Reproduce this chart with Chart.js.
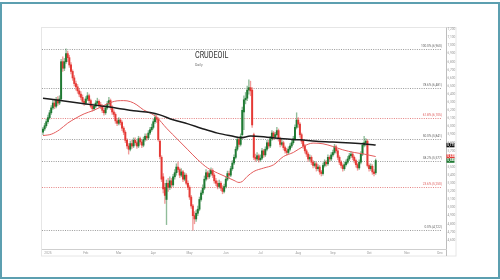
<!DOCTYPE html>
<html><head><meta charset="utf-8">
<script src="https://cdn.jsdelivr.net/npm/chart.js@4.4.1/dist/chart.umd.min.js"></script>
<style>
html,body{margin:0;padding:0;background:#fff;}
#wrap{position:relative;width:500px;height:280px;overflow:hidden;background:#fff;}
#frame{position:absolute;left:0;top:2px;width:500px;height:277px;box-sizing:border-box;border:2px solid #5c9fb0;pointer-events:none;}
#title{position:absolute;left:195px;top:51px;font-family:Roboto,"Liberation Sans",sans-serif;font-size:9px;line-height:9px;font-weight:400;color:#333;transform:scaleX(0.8);transform-origin:0 0;white-space:nowrap;}
#sub{position:absolute;left:195px;top:62.5px;font-family:Roboto,sans-serif;font-size:3.6px;line-height:4px;color:#777;}
canvas{position:absolute;left:0;top:0;}
</style></head>
<body><div id="wrap"><canvas id="c" width="500" height="280"></canvas><div id="title">CRUDEOIL</div><div id="sub">Daily</div><div id="frame"></div></div>
<script>
// ---- DATA (MCX CRUDEOIL, daily, from 27 Dec 2024) ----
const monthLabels = ["2025","Feb","Mar","Apr","May","Jun","Jul","Aug","Sep","Oct","Nov","Dec"];
const yTicks = [4600,4700,4800,4900,5000,5100,5200,5300,5400,5500,5600,5700,5800,5900,6000,6100,6200,6300,6400,6500,6600,6700,6800,6900,7000,7100,7200];
const opens = [
5930,5970,6010,6060,6110,6170,6230,6290,6250,6330,
6290,6340,6800,6720,6800,6900,6850,6760,6680,6600,
6530,6490,6440,6400,6360,6310,6290,6340,6380,6320,
6250,6220,6250,6290,6310,6270,6250,6200,6170,6230,
6280,6320,6240,6180,6150,6070,6040,6080,6050,5980,
5930,5830,5760,5720,5790,5760,5830,5800,5760,5850,
5810,5770,5840,5880,5860,5920,5960,5990,6060,6110,
6090,5820,5620,5380,5250,5100,5300,5250,5330,5280,
5380,5430,5500,5470,5400,5440,5350,5400,5300,5250,
5130,5020,4900,4860,4930,4980,5100,5180,5240,5350,
5430,5380,5420,5460,5400,5330,5300,5260,5300,5240,
5200,5260,5350,5420,5400,5480,5550,5620,5720,5840,
5780,5900,6180,6330,6350,6450,6480,6450,5900,5620,
5600,5640,5590,5610,5700,5650,5720,5800,5760,5850,
5920,5870,5900,5950,5850,5780,5800,5740,5700,5680,
5720,5760,5800,5850,5990,6080,6030,5900,5820,5760,
5700,5660,5600,5620,5560,5520,5540,5480,5500,5440,
5420,5520,5560,5540,5620,5600,5650,5680,5750,5700,
5620,5560,5520,5480,5530,5560,5600,5640,5660,5620,
5580,5530,5490,5560,5660,5770,5800,5820,5520,5480,
5510,5440,5430];
const highs = [
5990,6040,6090,6140,6200,6260,6330,6340,6360,6370,
6380,6830,6860,6840,6960,6930,6880,6790,6700,6630,
6560,6520,6470,6430,6390,6340,6370,6420,6400,6340,
6280,6280,6320,6350,6330,6300,6270,6230,6260,6310,
6360,6340,6260,6210,6170,6100,6110,6100,6070,6000,
5950,5850,5790,5820,5830,5860,5860,5820,5880,5870,
5830,5870,5910,5910,5950,5990,6030,6090,6150,6140,
6110,5840,5640,5420,5300,5340,5360,5380,5360,5410,
5470,5540,5560,5490,5480,5460,5430,5420,5330,5270,
5150,5040,4950,4970,5020,5130,5210,5280,5390,5470,
5450,5460,5490,5480,5420,5360,5330,5340,5320,5270,
5290,5380,5450,5450,5510,5580,5650,5750,5870,5870,
5910,6240,6380,6420,6500,6575,6560,6480,5920,5660,
5680,5660,5650,5730,5720,5750,5830,5830,5880,5950,
5940,5930,5990,5970,5870,5840,5820,5760,5730,5750,
5790,5830,5880,6020,6170,6110,6050,5920,5840,5780,
5720,5680,5650,5640,5580,5570,5560,5530,5520,5460,
5550,5590,5580,5650,5640,5680,5710,5780,5770,5720,
5640,5580,5540,5560,5590,5630,5670,5690,5680,5640,
5600,5550,5590,5690,5800,5880,5850,5840,5540,5540,
5530,5470,5600];
const lows = [
5900,5950,5990,6040,6090,6150,6210,6220,6230,6260,
6270,6320,6680,6690,6780,6800,6730,6650,6570,6500,
6450,6410,6370,6330,6280,6260,6270,6320,6290,6230,
6190,6200,6230,6270,6240,6220,6170,6140,6150,6210,
6260,6210,6150,6120,6040,6010,6020,6020,5950,5900,
5800,5730,5660,5700,5730,5740,5770,5730,5740,5780,
5740,5750,5820,5830,5840,5900,5940,5970,6040,6050,
5820,5600,5320,5180,5050,4790,5200,5220,5240,5260,
5350,5400,5440,5370,5380,5320,5330,5280,5220,5100,
4990,4722,4800,4830,4900,4960,5080,5160,5220,5330,
5350,5360,5400,5370,5300,5270,5230,5240,5210,5170,
5180,5240,5330,5370,5380,5460,5530,5600,5700,5750,
5760,5880,5960,6280,6320,6400,6380,5990,5590,5570,
5580,5560,5570,5590,5620,5630,5700,5730,5740,5830,
5840,5850,5880,5820,5750,5760,5710,5670,5650,5660,
5700,5740,5780,5830,5970,5990,5870,5790,5730,5670,
5630,5570,5580,5530,5490,5500,5450,5460,5410,5390,
5400,5500,5510,5520,5570,5580,5630,5660,5670,5590,
5530,5490,5450,5460,5510,5540,5580,5620,5590,5550,
5500,5460,5470,5540,5640,5750,5760,5500,5450,5460,
5410,5390,5410];
const closes = [
5970,6010,6060,6110,6170,6230,6290,6250,6330,6290,
6340,6800,6720,6800,6900,6850,6760,6680,6600,6530,
6490,6440,6400,6360,6310,6290,6340,6380,6320,6250,
6220,6250,6290,6310,6270,6250,6200,6170,6230,6280,
6320,6240,6180,6150,6070,6040,6080,6050,5980,5930,
5830,5760,5720,5790,5760,5830,5800,5760,5850,5810,
5770,5840,5880,5860,5920,5960,5990,6060,6110,6090,
5840,5630,5350,5230,5150,5300,5250,5330,5280,5380,
5430,5500,5470,5400,5440,5350,5400,5300,5250,5130,
5020,4900,4860,4930,4980,5100,5180,5240,5350,5430,
5380,5420,5460,5400,5330,5300,5260,5300,5240,5200,
5260,5350,5420,5400,5480,5550,5620,5720,5840,5780,
5880,6200,6330,6350,6450,6480,6440,6020,5620,5600,
5640,5590,5610,5700,5650,5720,5800,5760,5850,5920,
5870,5900,5950,5850,5780,5800,5740,5700,5680,5720,
5760,5800,5850,5990,6080,6030,5900,5820,5760,5700,
5660,5600,5620,5560,5520,5540,5480,5500,5440,5420,
5520,5560,5540,5620,5600,5650,5680,5750,5700,5620,
5560,5520,5480,5530,5560,5600,5640,5660,5620,5580,
5530,5490,5560,5660,5770,5800,5820,5520,5480,5510,
5440,5420,5580];
// moving averages read at sample days (trading-day number from 27 Dec 2024)
const sma200Days = [0,15,35,45,55,65,71,79,88,96,106,116,120,126,136,146,156,166,176,187,197,202];
const sma200 = [6350,6308,6255,6227,6194,6173,6144,6083,6033,5980,5919,5877,5861,5882,5869,5849,5836,5820,5808,5796,5783,5771];
const sma50Days = [0,5,10,15,20,25,30,35,39,45,49,53,57,61,66,69,75,82,88,94,100,106,112,116,119,121,124,128,134,140,146,152,158,164,170,176,182,189,195,202];
const sma50 = [5889,5905,5960,6042,6104,6157,6194,6239,6280,6317,6320,6308,6267,6206,6157,6116,5980,5836,5713,5590,5488,5426,5372,5335,5310,5322,5384,5446,5488,5528,5630,5680,5754,5796,5787,5754,5713,5680,5660,5630];
// Fibonacci retracement (low 4,722 -> high 6,960)
const fibLabels = ["100.0%","78.6%","61.8%","50.0%","38.2%","23.6%","0.0%"];
const fibValues = [6960,6481,6105,5841,5577,5250,4722];

// ---- trading calendar (weekdays) ----
const dates = [];
for (let t = Date.UTC(2024,11,27); t <= Date.UTC(2025,11,31); t += 86400000) {
  const dd = new Date(t); const w = dd.getUTCDay();
  if (w !== 0 && w !== 6) dates.push(dd);
}
const monthTicks = [];
dates.forEach((dd,i) => {
  if (dd.getUTCFullYear() === 2025 && (i === 0 || dates[i-1].getUTCMonth() !== dd.getUTCMonth())) monthTicks.push(i);
});

// ---- styles ----
const UP = '#1f7a33', DOWN = '#e53935';
const UPW = 'rgba(31,122,51,0.5)', DOWNW = 'rgba(229,57,53,0.5)';
const redFib = new Set(["61.8%","23.6%"]);
const fmt = v => Math.round(v).toLocaleString('en-US');

const bodies = opens.map((o,k) => ({x:k, y:[o, closes[k]]}));
const wicks = lows.map((l,k) => ({x:k, y:[l, highs[k]]}));
const isUp = opens.map((o,k) => closes[k] >= o);

const framePlugin = {
  id:'frame',
  beforeDraw(chart){
    const c = chart.ctx, a = chart.chartArea;
    c.save();
    c.strokeStyle = '#e6e6e6'; c.lineWidth = 1;
    c.strokeRect(a.left-0.5, a.top-0.5, 456 - a.left + 0.5, 256 - a.top + 0.5);
    c.strokeStyle = '#bdbdbd';
    c.beginPath(); c.moveTo(a.right+0.5, a.top-0.5); c.lineTo(a.right+0.5, 256); c.stroke();
    c.restore();
  },
  beforeDatasetsDraw(chart){
    const c = chart.ctx, a = chart.chartArea, y = chart.scales.y;
    c.save();
    fibValues.forEach((v,k) => {
      const py = Math.round(y.getPixelForValue(v)) + 0.5;
      const red = redFib.has(fibLabels[k]);
      c.strokeStyle = red ? 'rgba(220,90,90,0.75)' : 'rgba(120,120,120,0.75)';
      c.lineWidth = 1; c.setLineDash([1,1.3]);
      c.beginPath(); c.moveTo(a.left, py); c.lineTo(a.right-4, py); c.stroke();
      c.setLineDash([]);
      c.fillStyle = red ? '#e06060' : '#666';
      c.font = '3.2px Roboto, sans-serif'; c.textAlign = 'right'; c.textBaseline = 'middle';
      c.fillText(fibLabels[k] + ' (' + fmt(v) + ')', a.right-4, py - 3.6);
    });
    c.restore();
  },
  afterDraw(chart){
    const c = chart.ctx, a = chart.chartArea, y = chart.scales.y;
    const boxes = [[sma200[sma200.length-1], '#111'], [sma50[sma50.length-1], '#e53935'], [closes[closes.length-1], '#1f7a33']];
    c.save();
    boxes.forEach(([v,col]) => {
      const py = y.getPixelForValue(v);
      c.fillStyle = col; c.fillRect(a.right+0.5, py-2.2, 8, 4.4);
      c.fillStyle = '#fff'; c.font = 'bold 3px Roboto, sans-serif';
      c.textAlign = 'left'; c.textBaseline = 'middle';
      c.fillText(fmt(v), a.right+1.2, py+0.1);
    });
    c.restore();
  }
};

new Chart(document.getElementById('c'), {
  type: 'bar',
  data: { datasets: [
    { type:'line', data: sma200Days.map((d,k)=>({x:d, y:sma200[k]})), borderColor:'#1c1c1c', borderWidth:1.5, pointRadius:0, cubicInterpolationMode:'monotone', order:0 },
    { type:'line', data: sma50Days.map((d,k)=>({x:d, y:sma50[k]})), borderColor:'#e35b5b', borderWidth:1, pointRadius:0, cubicInterpolationMode:'monotone', order:1 },
    { data: wicks, backgroundColor: isUp.map(u => u ? UPW : DOWNW), barThickness:0.7, grouped:false, borderWidth:0, order:3 },
    { data: bodies, backgroundColor: isUp.map(u => u ? UP : DOWN), barThickness:1.3, grouped:false, borderWidth:0, minBarLength:0.5, order:2 }
  ]},
  options: {
    responsive:false, animation:false, devicePixelRatio:1,
    layout:{ padding:{ left:42, right:44, top:28, bottom:24 } },
    plugins:{ legend:{display:false}, tooltip:{enabled:false}, title:{display:false} },
    scales:{
      x:{ type:'linear', offset:false, min:-0.6, max:244.7,
          grid:{display:false, drawTicks:false}, border:{display:true, color:'#cfcfcf'},
          afterBuildTicks: s => { s.ticks = monthTicks.map(v => ({value:v})); },
          afterFit: s => { s.height = 7; },
          ticks:{ autoSkip:false, maxRotation:0, padding:2, color:'#999', font:{size:3.2, family:'Roboto'},
                  callback: v => { const dd = dates[v]; return dd.getUTCMonth()===0 ? monthLabels[0] : monthLabels[dd.getUTCMonth()]; } } },
      y:{ type:'linear', position:'right', min:4489, max:7216,
          grid:{display:false, drawTicks:false}, border:{display:false},
          afterBuildTicks: s => { s.ticks = yTicks.map(v => ({value:v})); },
          afterFit: s => { s.width = 10; },
          ticks:{ padding:1.5, color:'#999', font:{size:3.2, family:'Roboto'}, callback: v => fmt(v) } }
    }
  },
  plugins:[framePlugin]
});
</script></body></html>
